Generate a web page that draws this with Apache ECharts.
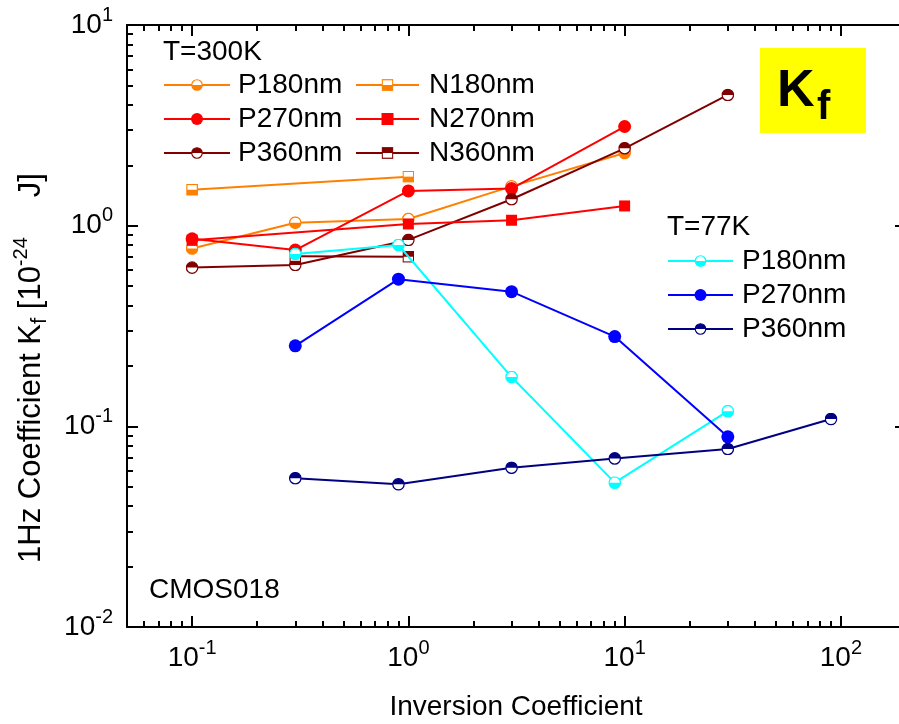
<!DOCTYPE html>
<html>
<head>
<meta charset="utf-8">
<script src="https://cdn.jsdelivr.net/npm/echarts@6/dist/echarts.min.js"></script>
<style>
  html, body { margin: 0; padding: 0; background: #ffffff; }
  #chart { width: 899px; height: 724px; }
</style>
</head>
<body>
<div id="chart"></div>
<script>
// ---- Measured flicker-noise coefficient Kf vs inversion coefficient ----
// T = 300 K
const p180RoomIC = [0.1, 0.3, 1, 3, 10];
const p180RoomKf = [0.77, 1.035, 1.08, 1.57, 2.30];
const p270RoomIC = [0.1, 0.3, 1, 3, 10];
const p270RoomKf = [0.86, 0.756, 1.49, 1.53, 3.12];
const p360RoomIC = [0.1, 0.3, 1, 3, 10, 30];
const p360RoomKf = [0.618, 0.637, 0.849, 1.354, 2.43, 4.48];
const n180RoomIC = [0.1, 1];
const n180RoomKf = [1.51, 1.755];
const n270RoomIC = [0.1, 1, 3, 10];
const n270RoomKf = [0.845, 1.02, 1.064, 1.254];
const n360RoomIC = [0.3, 1];
const n360RoomKf = [0.705, 0.70];
// T = 77 K
const p180ColdIC = [0.3, 0.9, 3, 9, 30];
const p180ColdKf = [0.723, 0.801, 0.176, 0.0524, 0.119];
const p270ColdIC = [0.3, 0.9, 3, 9, 30];
const p270ColdKf = [0.252, 0.541, 0.469, 0.280, 0.0887];
const p360ColdIC = [0.3, 0.9, 3, 9, 30, 90];
const p360ColdKf = [0.0551, 0.0514, 0.0622, 0.0692, 0.0771, 0.1087];

// Axis ticks
const xMajorTicks = [0.1, 1, 10, 100];
const xMinorTicks = [0.06, 0.07, 0.08, 0.09, 0.2, 0.3, 0.4, 0.5, 0.6, 0.7, 0.8, 0.9,
                     2, 3, 4, 5, 6, 7, 8, 9, 20, 30, 40, 50, 60, 70, 80, 90];
const yMajorTicks = [0.01, 0.1, 1, 10];
const yMinorTicks = [0.02, 0.03, 0.04, 0.05, 0.06, 0.07, 0.08, 0.09,
                     0.2, 0.3, 0.4, 0.5, 0.6, 0.7, 0.8, 0.9,
                     2, 3, 4, 5, 6, 7, 8, 9];

const FONT = '"Liberation Sans", Arial, Helvetica, sans-serif';
const ORANGE = '#FF8000', RED = '#FF0000', DARKRED = '#800000';
const CYAN = '#00FFFF', BLUE = '#0000FF', NAVY = '#000080';

// Half-filled marker drawn as an SVG image symbol
function halfMarker(shape, color, filledHalf) {
  let body;
  if (shape === 'circle') {
    const half = filledHalf === 'bottom'
      ? "<path d='M1.5 12 A10.5 10.5 0 0 0 22.5 12 Z' fill='" + color + "'/>"
      : "<path d='M1.5 12 A10.5 10.5 0 0 1 22.5 12 Z' fill='" + color + "'/>";
    body = "<circle cx='12' cy='12' r='10.5' fill='white'/>" + half +
           "<circle cx='12' cy='12' r='10.5' fill='none' stroke='" + color + "' stroke-width='2.4'/>";
  } else {
    const half = filledHalf === 'bottom'
      ? "<rect x='1.5' y='12' width='21' height='10.5' fill='" + color + "'/>"
      : "<rect x='1.5' y='1.5' width='21' height='10.5' fill='" + color + "'/>";
    body = "<rect x='1.5' y='1.5' width='21' height='21' fill='white'/>" + half +
           "<rect x='1.5' y='1.5' width='21' height='21' fill='none' stroke='" + color + "' stroke-width='2.4'/>";
  }
  const svg = "<svg xmlns='http://www.w3.org/2000/svg' width='24' height='24' viewBox='0 0 24 24'>" + body + "</svg>";
  return 'image://data:image/svg+xml;charset=utf-8,' + encodeURIComponent(svg);
}

function pairs(xs, ys) { return xs.map((x, i) => [x, ys[i]]); }

const seriesDefs = [
  { name: 'P180nm', xs: p180RoomIC, ys: p180RoomKf, color: ORANGE, symbol: halfMarker('circle', ORANGE, 'bottom'), size: 13 },
  { name: 'P270nm', xs: p270RoomIC, ys: p270RoomKf, color: RED, symbol: 'circle', size: 13 },
  { name: 'P360nm', xs: p360RoomIC, ys: p360RoomKf, color: DARKRED, symbol: halfMarker('circle', DARKRED, 'top'), size: 13 },
  { name: 'N180nm', xs: n180RoomIC, ys: n180RoomKf, color: ORANGE, symbol: halfMarker('rect', ORANGE, 'bottom'), size: 12 },
  { name: 'N270nm', xs: n270RoomIC, ys: n270RoomKf, color: RED, symbol: 'rect', size: 11 },
  { name: 'N360nm', xs: n360RoomIC, ys: n360RoomKf, color: DARKRED, symbol: halfMarker('rect', DARKRED, 'top'), size: 12 },
  { name: 'P180nm (77K)', xs: p180ColdIC, ys: p180ColdKf, color: CYAN, symbol: halfMarker('circle', CYAN, 'bottom'), size: 13 },
  { name: 'P270nm (77K)', xs: p270ColdIC, ys: p270ColdKf, color: BLUE, symbol: 'circle', size: 13 },
  { name: 'P360nm (77K)', xs: p360ColdIC, ys: p360ColdKf, color: NAVY, symbol: halfMarker('circle', NAVY, 'top'), size: 13 }
];

const series = seriesDefs.map((d, i) => ({
  type: 'line',
  name: d.name,
  xAxisIndex: 0,
  yAxisIndex: 0,
  data: pairs(d.xs, d.ys),
  symbol: d.symbol,
  symbolSize: d.size,
  showAllSymbol: true,
  color: d.color,
  lineStyle: { color: d.color, width: 2 },
  itemStyle: { color: d.color },
  emphasis: { disabled: true },
  z: 2 + i
}));

function powLabel(v) {
  const e = Math.round(Math.log10(v));
  return '{b|10}{s|' + e + '}';
}

const labelRich = {
  b: { fontSize: 28, fontFamily: FONT, color: '#000', lineHeight: 40, verticalAlign: 'middle' },
  s: { fontSize: 20, fontFamily: FONT, color: '#000', lineHeight: 20, verticalAlign: 'top' }
};

const AX = { color: '#000', width: 2 };

function xAxisDef(position, ticks, len, withLabels, showLine) {
  return {
    type: 'log', logBase: 10, min: 0.05, max: 200, position: position,
    axisLine: { show: showLine, onZero: false, lineStyle: AX },
    axisTick: { show: true, inside: true, length: len, customValues: ticks, lineStyle: AX },
    axisLabel: withLabels
      ? { show: true, customValues: xMajorTicks, margin: 11, formatter: powLabel, rich: labelRich }
      : { show: false },
    minorTick: { show: false },
    splitLine: { show: false }
  };
}
function yAxisDef(position, ticks, len, withLabels, showLine) {
  return {
    type: 'log', logBase: 10, min: 0.01, max: 10, position: position,
    axisLine: { show: showLine, onZero: false, lineStyle: AX },
    axisTick: { show: true, inside: true, length: len, customValues: ticks, lineStyle: AX },
    axisLabel: withLabels
      ? { show: true, customValues: yMajorTicks, margin: 14, formatter: powLabel, rich: labelRich }
      : { show: false },
    minorTick: { show: false },
    splitLine: { show: false }
  };
}

const legendText = { fontSize: 28, fontFamily: FONT, color: '#000', lineHeight: 34, padding: [0, 0, 0, 3] };

const option = {
  animation: false,
  backgroundColor: '#ffffff',
  grid: { left: 127, top: 25, width: 779, height: 602, outerBoundsMode: 'none', containLabel: false },
  xAxis: [
    xAxisDef('bottom', xMajorTicks, 11, true, true),
    xAxisDef('bottom', xMinorTicks, 6, false, false),
    xAxisDef('top', xMajorTicks, 11, false, true),
    xAxisDef('top', xMinorTicks, 6, false, false)
  ],
  yAxis: [
    yAxisDef('left', yMajorTicks, 11, true, true),
    yAxisDef('left', yMinorTicks, 6, false, false),
    yAxisDef('right', yMajorTicks, 11, false, true)
  ],
  legend: [
    {
      orient: 'vertical', left: 163, top: 68, padding: 0, itemGap: 0,
      itemWidth: 66, itemHeight: 15, textStyle: legendText,
      data: ['P180nm', 'P270nm', 'P360nm']
    },
    {
      orient: 'vertical', left: 355, top: 68, padding: 0, itemGap: 0,
      itemWidth: 63, itemHeight: 15, textStyle: Object.assign({}, legendText, { padding: [0, 0, 0, 5] }),
      data: ['N180nm', 'N270nm', 'N360nm']
    },
    {
      orient: 'vertical', left: 667, top: 244, padding: 0, itemGap: 0,
      itemWidth: 65, itemHeight: 15, textStyle: Object.assign({}, legendText, { padding: [0, 0, 0, 4] }),
      formatter: name => name.replace(' (77K)', ''),
      data: ['P180nm (77K)', 'P270nm (77K)', 'P360nm (77K)']
    }
  ],
  graphic: [
    { type: 'text', x: 163, y: 52, style: { text: 'T=300K', font: '28px ' + FONT, fill: '#000', align: 'left', verticalAlign: 'middle' } },
    { type: 'text', x: 667, y: 227, style: { text: 'T=77K', font: '28px ' + FONT, fill: '#000', align: 'left', verticalAlign: 'middle' } },
    { type: 'text', x: 149, y: 590, style: { text: 'CMOS018', font: '28px ' + FONT, fill: '#000', align: 'left', verticalAlign: 'middle' } },
    { type: 'rect', shape: { x: 760, y: 48, width: 106, height: 85 }, style: { fill: '#FFFF00' }, z: 50 },
    { type: 'text', x: 777, y: 92, z: 51, style: { text: 'K', font: 'bold 52px ' + FONT, fill: '#000', align: 'left', verticalAlign: 'middle' } },
    { type: 'text', x: 817, y: 108, z: 51, style: { text: 'f', font: 'bold 40px ' + FONT, fill: '#000', align: 'left', verticalAlign: 'middle' } },
    { type: 'text', x: 516, y: 707, style: { text: 'Inversion Coefficient', font: '28px ' + FONT, fill: '#000', align: 'center', verticalAlign: 'middle' } },
    {
      type: 'text', x: 31, y: 368, rotation: Math.PI / 2,
      style: {
        text: '{n|1Hz Coefficient K}{sub|f}{n| [10}{sup|-24}{g| }{n|J]}',
        align: 'center', verticalAlign: 'middle',
        rich: {
          n: { fontSize: 31, fontFamily: FONT, fill: '#000', color: '#000', lineHeight: 40, verticalAlign: 'middle' },
          sub: { fontSize: 22, fontFamily: FONT, fill: '#000', color: '#000', lineHeight: 22, verticalAlign: 'bottom' },
          sup: { fontSize: 20, fontFamily: FONT, fill: '#000', color: '#000', lineHeight: 20, verticalAlign: 'top' },
          g: { fontSize: 31, fontFamily: FONT, width: 40, lineHeight: 40 }
        }
      }
    }
  ],
  series: series
};

const chart = echarts.init(document.getElementById('chart'), null, { renderer: 'canvas' });
chart.setOption(option);
</script>
</body>
</html>
